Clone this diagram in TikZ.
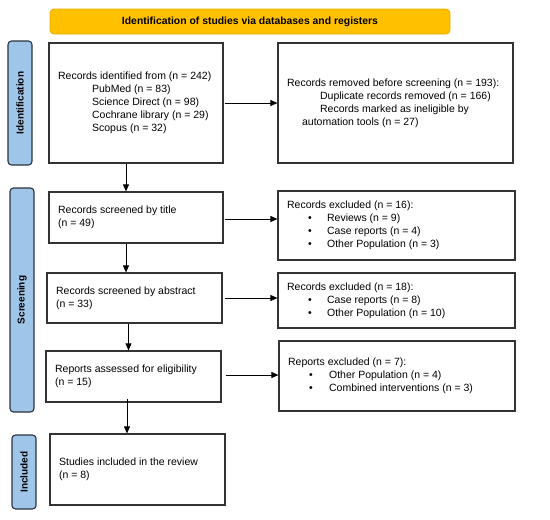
\documentclass[tikz,border=0pt]{standalone}
\usepackage{fontspec}
\setmainfont{Liberation Sans}
\usetikzlibrary{arrows.meta}
\definecolor{banfill}{HTML}{FFC000}
\definecolor{banline}{HTML}{E8AE00}
\definecolor{labfill}{HTML}{9FC5E8}
\definecolor{labline}{HTML}{2A3440}
\definecolor{boxline}{HTML}{333333}
\begin{document}
\begin{tikzpicture}[x=1pt,y=-1pt,
  box/.style={draw=boxline,line width=1.2pt,fill=white,inner sep=0pt,anchor=center},
  txt/.style={align=left,font=\fontsize{10.5}{13}\selectfont,inner sep=0pt,anchor=west},
  lab/.style={draw=labline,line width=1.1pt,fill=labfill,rounded corners=3.5pt,inner sep=0pt},
  labt/.style={rotate=90,font=\fontsize{10}{12}\bfseries,inner sep=0pt},
  arr/.style={draw=black,line width=0.8pt,-{Triangle[length=7pt,width=6pt]}}]
\useasboundingbox (0,0) rectangle (550,520);
% banner
\node[draw=banline,line width=0.8pt,fill=banfill,rounded corners=4pt,minimum width=400pt,minimum height=25pt,
  inner sep=0pt,font=\fontsize{10.4}{12}\bfseries] (ban) at (250,21.5) {Identification of studies via databases and registers};
% side labels
\node[lab,minimum width=24pt,minimum height=124pt] (lid) at (20,103) {};
\node[labt] (lidt) at (lid.center) {Identification};
\node[lab,minimum width=24pt,minimum height=224pt] (lsc) at (22,300) {};
\node[labt] (lsct) at (lsc.center) {Screening};
\node[lab,minimum width=24pt,minimum height=74pt] (lin) at (24,472) {};
\node[labt] (lint) at (lin.center) {Included};
% left boxes
\node[box,minimum width=174pt,minimum height=120pt] (b1) at (136,103) {};
\node[txt] (b1t) at ([xshift=9.5pt,yshift=0.5pt]b1.west) {Records identified from (n = 242)\\
\hspace*{34pt}PubMed (n = 83)\\
\hspace*{34pt}Science Direct (n = 98)\\
\hspace*{34pt}Cochrane library (n = 29)\\
\hspace*{34pt}Scopus (n = 32)};
\node[box,minimum width=174pt,minimum height=51pt] (b2) at (136,217.5) {};
\node[txt] (b2t) at ([xshift=9.5pt]b2.west) {Records screened by title\\(n = 49)};
\node[box,minimum width=175pt,minimum height=50pt] (b3) at (134.5,298) {};
\node[txt] (b3t) at ([xshift=9.5pt]b3.west) {Records screened by abstract\\(n = 33)};
\node[box,minimum width=175pt,minimum height=51pt] (b4) at (133.5,376.5) {};
\node[txt] (b4t) at ([xshift=9.5pt]b4.west) {Reports assessed for eligibility\\(n = 15)};
\node[box,minimum width=175pt,minimum height=71pt] (b5) at (137.5,469.5) {};
\node[txt] (b5t) at ([xshift=9.5pt]b5.west) {Studies included in the review\\(n = 8)};
% right boxes
\node[box,minimum width=235pt,minimum height=120pt] (r1) at (395.5,103) {};
\node[txt] (r1t) at ([xshift=9.5pt]r1.west) {Records removed before screening (n = 193):\\
\hspace*{33pt}Duplicate records removed (n = 166)\\
\hspace*{33pt}Records marked as ineligible by\\
\hspace*{15pt}automation tools (n = 27)};
\node[box,minimum width=237pt,minimum height=69pt] (r2) at (396.5,225.5) {};
\node[txt] (r2t) at ([xshift=9.5pt]r2.west) {Records excluded (n = 16):\\
\hspace*{21pt}\makebox[19pt][l]{\textbullet}Reviews (n = 9)\\
\hspace*{21pt}\makebox[19pt][l]{\textbullet}Case reports (n = 4)\\
\hspace*{21pt}\makebox[19pt][l]{\textbullet}Other Population (n = 3)};
\node[box,minimum width=237pt,minimum height=55pt] (r3) at (396.5,300.5) {};
\node[txt] (r3t) at ([xshift=9.5pt]r3.west) {Records excluded (n = 18):\\
\hspace*{21pt}\makebox[19pt][l]{\textbullet}Case reports (n = 8)\\
\hspace*{21pt}\makebox[19pt][l]{\textbullet}Other Population (n = 10)};
\node[box,minimum width=236pt,minimum height=70pt] (r4) at (397,376) {};
\node[txt] (r4t) at ([xshift=9.5pt]r4.west) {Reports excluded (n = 7):\\
\hspace*{21pt}\makebox[20pt][l]{\textbullet}Other Population (n = 4)\\
\hspace*{21pt}\makebox[20pt][l]{\textbullet}Combined interventions (n = 3)};
% arrows
\draw[arr] ([xshift=1pt]b1.east) -- (b1.east -| r1.west);
\draw[arr] ([xshift=1pt,yshift=-1.5pt]b2.east) -- ([yshift=-1.5pt]b2.east -| r2.west);
\draw[arr] ([xshift=2pt]b3.east) -- (b3.east -| r3.west);
\draw[arr] ([xshift=4pt,yshift=1.5pt]b4.east) -- ([yshift=1.5pt]b4.east -| r4.west);
\draw[arr] ([xshift=-10pt]b1.south) -- ([xshift=-10pt]b1.south |- b2.north);
\draw[arr] ([xshift=-10pt]b2.south) -- ([xshift=-10pt]b2.south |- b3.north);
\draw[arr] ([xshift=-6pt]b3.south) -- ([xshift=-6pt]b3.south |- b4.north);
\draw[arr] ([xshift=-6.5pt,yshift=4pt]b4.south) -- ([xshift=-6.5pt]b4.south |- b5.north);
\end{tikzpicture}
\end{document}
